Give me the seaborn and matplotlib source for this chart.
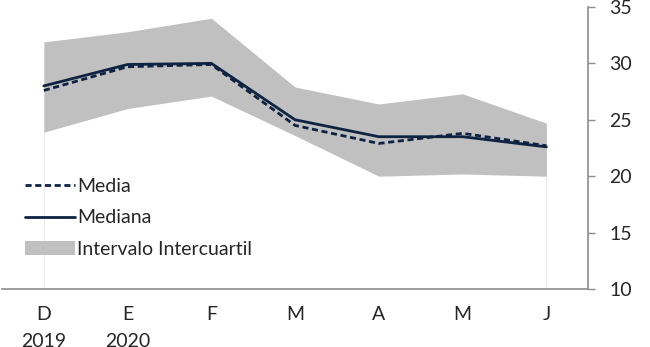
import matplotlib
matplotlib.use("Agg")
import matplotlib.pyplot as plt
import seaborn as sns
import pandas as pd
import numpy as np
from matplotlib.patches import Patch
from matplotlib.lines import Line2D

months = ["D", "E", "F", "M", "A", "M", "J"]
tick_labels = ["D\n2019", "E\n2020", "F", "M", "A", "M", "J"]
media = [27.6, 29.7, 29.9, 24.5, 22.9, 23.8, 22.7]
mediana = [28.0, 29.9, 30.0, 25.0, 23.5, 23.5, 22.6]
q_low = [23.9, 26.0, 27.1, 23.6, 20.0, 20.2, 20.0]
q_high = [31.9, 32.8, 34.0, 27.9, 26.4, 27.3, 24.7]

sns.set_style("white")
plt.rcParams["font.family"] = ["Lato", "DejaVu Sans"]

navy = "#0E2342"
band = "#C0C0C0"
axc = "#8C8C8C"

x = np.arange(len(months))
df = pd.DataFrame({"x": x, "Media": media, "Mediana": mediana})

fig = plt.figure(figsize=(6.5, 3.47), dpi=100)
ax = fig.add_axes([0.003, 0.167, 0.902, 0.813])

ax.fill_between(x, q_low, q_high, color=band, linewidth=0, zorder=1)
ax.vlines([x[0], x[-1]], 10, [q_low[0], q_low[-1]], color="#EBEBEB", linewidth=0.8, zorder=0)
sns.lineplot(data=df, x="x", y="Mediana", ax=ax, color=navy, linewidth=2.0, zorder=3)
sns.lineplot(data=df, x="x", y="Media", ax=ax, color=navy, linewidth=2.0,
             linestyle=(0, (2.2, 1.3)), zorder=4)

ax.set_xlim(-0.5, len(months) - 0.5)
ax.set_ylim(10, 35)
ax.set_yticks([10, 15, 20, 25, 30, 35])
ax.yaxis.tick_right()
ax.set_xticks(x)
ax.set_xticklabels(tick_labels, linespacing=1.75, va="top")
ax.set_xticks(np.arange(-0.5, len(months) + 0.5, 1), minor=True)
ax.tick_params(axis="x", which="major", length=0, pad=12, labelsize=14)
ax.tick_params(axis="x", which="minor", length=5, width=1, color=axc, direction="out")
ax.tick_params(axis="y", which="major", length=5, width=1, color=axc, direction="out",
               labelsize=14, pad=10, right=True, left=False)
ax.set_xlabel("")
ax.set_ylabel("")

for s in ["top", "left"]:
    ax.spines[s].set_visible(False)
for s in ["bottom", "right"]:
    ax.spines[s].set_visible(True)
    ax.spines[s].set_color(axc)
    ax.spines[s].set_linewidth(1.2)

handles = [
    Line2D([0], [0], color=navy, linewidth=2.0, linestyle=(0, (2.2, 1.3))),
    Line2D([0], [0], color=navy, linewidth=2.0),
    Patch(facecolor=band, edgecolor="none"),
]
ax.legend(handles, ["Media", "Mediana", "Intervalo Intercuartil"],
          loc="upper left", bbox_to_anchor=(0.039, 0.394), frameon=False,
          fontsize=14, handlelength=2.6, handleheight=0.75,
          handletextpad=0.1, labelspacing=0.75, borderpad=0, borderaxespad=0)

fig.savefig("out.png", dpi=100)
